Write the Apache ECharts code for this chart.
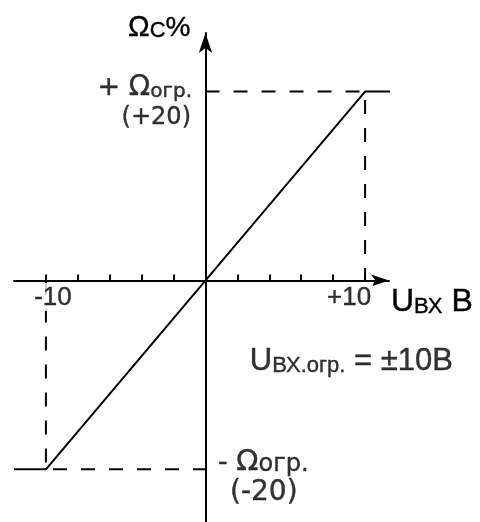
<!DOCTYPE html>
<html>
<head>
<meta charset="utf-8">
<script src="https://cdn.jsdelivr.net/npm/echarts@6.0.0/dist/echarts.min.js"></script>
<style>
html, body { margin: 0; padding: 0; background: #fff; }
#chart { width: 480px; height: 522px; }
</style>
</head>
<body>
<div id="chart"></div>
<script>
// характеристика: входное напряжение (В) -> скорость (%)
var inputU = [-12, -10, 10, 12];
var omegaC = [-20, -20, 20, 20];
// пунктирные линии ограничения
var upperGuideX = [0, 10, 10];
var upperGuideY = [20, 20, 0];
var lowerGuideX = [-10, -10, 0];
var lowerGuideY = [0, -20, -20];
// деления и подписи оси X
var tickValues = [-10, -8, -6, -4, -2, 0, 2, 4, 6, 8, 10];
var labelValues = [-10, 10];

var SANS = 'Liberation Sans, Arial, sans-serif';
var WIDE = 'DejaVu Sans, sans-serif';

function pairs(xs, ys) {
    return xs.map(function (x, i) { return [x, ys[i]]; });
}

function txt(family, size, lh) {
    return {
        fontFamily: family, fontSize: size, lineHeight: lh, verticalAlign: 'bottom',
        color: '#000', textBorderColor: '#000', textBorderWidth: 0.4
    };
}

var black = { color: '#000', width: 2 };
var dashed = { color: '#000', width: 2, type: [14, 14] };
var hidden = { color: 'rgba(0,0,0,0)' };

var option = {
    backgroundColor: '#fff',
    animation: false,
    grid: {
        left: 14,
        top: 33,
        width: 375,
        height: 493,
        containLabel: false,
        outerBoundsMode: 'none'
    },
    xAxis: {
        type: 'value',
        min: -12,
        max: 11.5,
        interval: 2,
        axisLine: {
            onZero: true,
            lineStyle: black,
            symbol: ['none', 'arrow'],
            symbolSize: [9, 18]
        },
        axisTick: {
            show: true,
            inside: true,
            length: 6,
            customValues: tickValues,
            lineStyle: black
        },
        axisLabel: { show: false },
        splitLine: { show: false },
        name: '{u|U}{s|ВХ}{u| В}',
        nameLocation: 'end',
        nameGap: 2,
        nameTextStyle: {
            align: 'left',
            verticalAlign: 'middle',
            padding: [40, 0, 0, 0],
            rich: { u: txt(SANS, 32, 35), s: txt(SANS, 22, 22) }
        }
    },
    yAxis: {
        type: 'value',
        min: -26,
        max: 26.2,
        axisLine: {
            onZero: true,
            lineStyle: black,
            symbol: ['none', 'arrow'],
            symbolSize: [10, 20]
        },
        axisTick: { show: false },
        axisLabel: { show: false },
        splitLine: { show: false },
        name: '{o|Ω}{c|C}{p|%}',
        nameLocation: 'end',
        nameGap: 9,
        nameTextStyle: {
            align: 'right',
            verticalAlign: 'middle',
            padding: [0, 15, 0, 0],
            rich: { o: txt(SANS, 29, 36), c: txt(SANS, 22, 20), p: txt(SANS, 28, 32) }
        }
    },
    series: [
        {
            type: 'line',
            data: pairs(inputU, omegaC),
            symbol: 'none',
            clip: false,
            lineStyle: black,
            z: 3
        },
        {
            type: 'line',
            data: pairs(upperGuideX, upperGuideY),
            symbol: 'none',
            clip: false,
            silent: true,
            lineStyle: dashed
        },
        {
            type: 'line',
            data: pairs(lowerGuideX, lowerGuideY),
            symbol: 'none',
            clip: false,
            silent: true,
            lineStyle: dashed
        },
        {
            // подписи делений -10 / +10 на оси X
            type: 'scatter',
            symbolSize: 1,
            itemStyle: hidden,
            silent: true,
            clip: false,
            z: 4,
            data: labelValues.map(function (v) {
                return { value: [v, 0], label: { offset: v < 0 ? [7, 0] : [-16, 0] } };
            }),
            label: {
                show: true,
                position: 'bottom',
                distance: 2,
                backgroundColor: '#fff',
                padding: [0, 2, 0, 2],
                formatter: function (p) {
                    var v = p.value[0];
                    return '{a|' + (v > 0 ? '+' + v : '' + v) + '}';
                },
                rich: { a: txt(SANS, 26, 28) }
            }
        },
        {
            // подписи на поле графика
            type: 'scatter',
            symbolSize: 1,
            itemStyle: hidden,
            silent: true,
            clip: false,
            data: [
                {
                    value: [0, 20],
                    label: {
                        show: true, position: 'left', distance: 13, offset: [0, -6],
                        formatter: '{m|+ }{o|Ω}{s|огр.}',
                        rich: { m: txt(WIDE, 27, 32), o: txt(WIDE, 28, 32), s: txt(WIDE, 20, 20) }
                    }
                },
                {
                    value: [0, 20],
                    label: {
                        show: true, position: 'left', distance: 14, offset: [0, 24],
                        formatter: '{a|(+20)}',
                        rich: { a: txt(WIDE, 24, 28) }
                    }
                },
                {
                    value: [0, -20],
                    label: {
                        show: true, position: 'right', distance: 12, offset: [0, -9],
                        formatter: '{m|- }{o|Ω}{s|огр.}',
                        rich: { m: txt(WIDE, 27, 32), o: txt(WIDE, 29, 33), s: txt(WIDE, 24, 24) }
                    }
                },
                {
                    value: [0, -20],
                    label: {
                        show: true, position: 'right', distance: 24, offset: [0, 22],
                        formatter: '{a|(-20)}',
                        rich: { a: txt(WIDE, 28, 30) }
                    }
                },
                {
                    value: [3, -8.5],
                    label: {
                        show: true, position: 'right', distance: 0, offset: [-4, -2],
                        formatter: '{u|U}{s|ВХ.огр.}{u| = ±10В}',
                        rich: { u: txt(SANS, 31, 36), s: txt(SANS, 22, 22) }
                    }
                }
            ]
        }
    ]
};

var chart = echarts.init(document.getElementById('chart'));
chart.setOption(option);
</script>
</body>
</html>
